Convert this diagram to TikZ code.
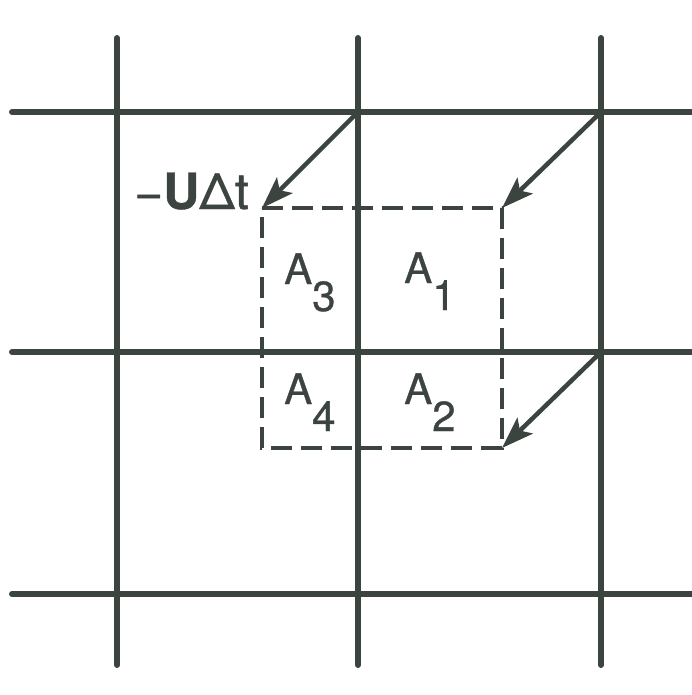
\documentclass[tikz,border=0pt]{standalone}
\usepackage{fontspec}
\setmainfont{TeX Gyre Heros}
\usetikzlibrary{arrows.meta}
\definecolor{ink}{RGB}{60,68,64}
\tikzset{
  gridline/.style={draw=ink,line width=6pt,line cap=round},
  shiftarrow/.style={draw=ink,line width=4.5pt,-{Stealth[length=32pt,width=22pt,inset=7pt]}},
  boxline/.style={draw=ink,line width=3.5pt,dash pattern=on 21pt off 9pt},
  alabel/.style={anchor=base west,inner sep=0pt,font=\fontsize{42}{42}\selectfont\addfontfeature{FakeBold=0.8},text=ink},
}
\newcommand{\sublow}[1]{\raisebox{-27pt}{#1}}
\begin{document}
\begin{tikzpicture}[x=1pt,y=-1pt]
\useasboundingbox (0,0) rectangle (692,695);
% grid line end points
\coordinate (v1t) at (117,38);  \coordinate (v1b) at (117,665);
\coordinate (v2t) at (358,38);  \coordinate (v2b) at (358,665);
\coordinate (v3t) at (601,38);  \coordinate (v3b) at (601,665);
\coordinate (h1l) at (12,112);  \coordinate (h1r) at (695,112);
\coordinate (h2l) at (12,352);  \coordinate (h2r) at (695,352);
\coordinate (h3l) at (12,594);  \coordinate (h3r) at (695,594);
% grid intersections (arrow tails)
\coordinate (p21) at (358,112);
\coordinate (p31) at (601,112);
\coordinate (p32) at (601,352);
% displaced square corners
\coordinate (q1) at (262,208);
\coordinate (q2) at (502,208);
\coordinate (q3) at (502,448);
\coordinate (q4) at (262,448);
% grid
\draw[gridline] (v1t) -- (v1b);
\draw[gridline] (v2t) -- (v2b);
\draw[gridline] (v3t) -- (v3b);
\draw[gridline] (h1l) -- (h1r);
\draw[gridline] (h2l) -- (h2r);
\draw[gridline] (h3l) -- (h3r);
% dashed square
\draw[boxline] (q1) -- (q2) -- (q3) -- (q4) -- cycle;
% arrows
\draw[shiftarrow] (p21) -- (q1);
\draw[shiftarrow] (p31) -- (q2);
\draw[shiftarrow] (p32) -- (q3);
% labels
\node[alabel] (a3) at (284,284) {A\sublow{3}};
\node[alabel] (a1) at (404,283) {A\sublow{1}};
\node[alabel] (a4) at (284,404) {A\sublow{4}};
\node[alabel] (a2) at (404,404) {A\sublow{2}};
\node[anchor=base east,inner sep=0pt,font=\fontsize{50}{50}\selectfont\addfontfeature{FakeBold=0.8},text=ink] (ut) at (249,209) {−\textbf{U}Δt};
\end{tikzpicture}
\end{document}
